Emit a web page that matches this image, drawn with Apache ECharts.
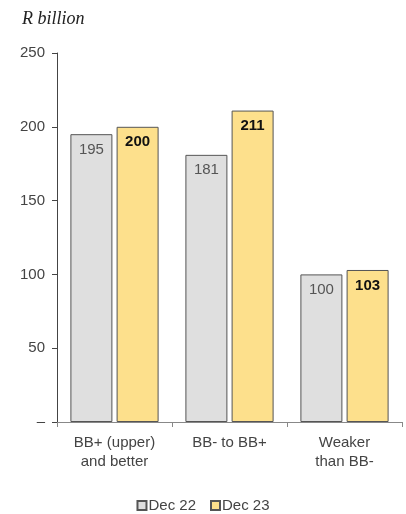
<!DOCTYPE html>
<html>
<head>
<meta charset="utf-8">
<script src="https://cdn.jsdelivr.net/npm/echarts@6/dist/echarts.min.js"></script>
<style>
  html, body { margin: 0; padding: 0; background: #fff; }
  #chart { width: 406px; height: 514px; }
</style>
</head>
<body>
<div id="chart"></div>
<script>
// Rating buckets and exposure values (R billion)
const categories = ['BB+ (upper)\nand better', 'BB- to BB+', 'Weaker\nthan BB-'];
const seriesNames = ['Dec 22', 'Dec 23'];
const dec22 = [195, 181, 100];
const dec23 = [200, 211, 103];
const yTicks = { min: 0, max: 250, interval: 50 };

const sans = '"Liberation Sans", Arial, sans-serif';
const chart = echarts.init(document.getElementById('chart'), null, { renderer: 'canvas' });

chart.setOption({
  animation: false,
  title: {
    text: 'R billion',
    left: 17,
    top: 5,
    textStyle: {
      fontFamily: '"Liberation Serif", serif',
      fontStyle: 'italic',
      fontWeight: 'normal',
      fontSize: 18,
      color: '#222'
    }
  },
  grid: { left: 57, right: 4, top: 53, bottom: 92, containLabel: false },
  legend: {
    bottom: 1,
    padding: [0, 5, 0, 5],
    left: 'center',
    icon: 'rect',
    itemWidth: 9,
    itemHeight: 9,
    itemGap: 14,
    data: seriesNames,
    textStyle: { fontFamily: sans, fontSize: 15, color: '#444', padding: [0, 0, 0, -3] }
  },
  xAxis: {
    type: 'category',
    data: categories,
    axisLine: { lineStyle: { color: '#888', width: 1 } },
    axisTick: { show: true, length: 5, lineStyle: { color: '#888' } },
    axisLabel: {
      fontFamily: sans,
      fontSize: 15,
      color: '#444',
      lineHeight: 19,
      margin: 11
    }
  },
  yAxis: {
    type: 'value',
    min: yTicks.min,
    max: yTicks.max,
    interval: yTicks.interval,
    axisLine: { show: true, lineStyle: { color: '#444', width: 1 } },
    axisTick: { show: true, length: 5, lineStyle: { color: '#444' } },
    splitLine: { show: false },
    axisLabel: {
      fontFamily: sans,
      fontSize: 15,
      color: '#444',
      margin: 12,
      formatter: v => (v === 0 ? '–' : String(v))
    }
  },
  series: [
    {
      name: seriesNames[0],
      type: 'bar',
      data: dec22,
      barWidth: 42,
      barGap: '10%',
      itemStyle: { color: '#dfdfdf', borderColor: '#555', borderWidth: 1 },
      label: {
        show: true,
        position: 'insideTop',
        distance: 8,
        fontFamily: sans,
        fontSize: 15,
        color: '#555'
      }
    },
    {
      name: seriesNames[1],
      type: 'bar',
      data: dec23,
      barWidth: 42,
      itemStyle: { color: '#fde08c', borderColor: '#555', borderWidth: 1 },
      label: {
        show: true,
        position: 'insideTop',
        distance: 8,
        fontFamily: sans,
        fontSize: 15,
        fontWeight: 'bold',
        color: '#111'
      }
    }
  ]
});
</script>
</body>
</html>
